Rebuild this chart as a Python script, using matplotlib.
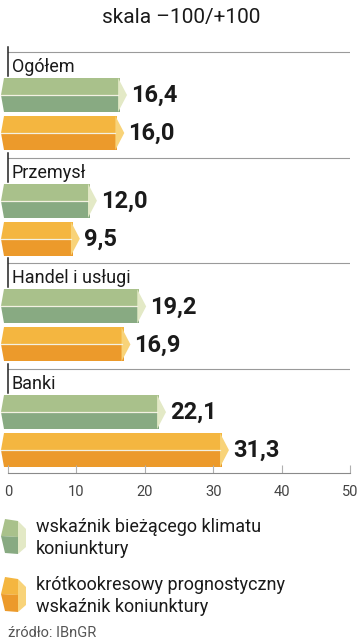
import numpy as np
import matplotlib
matplotlib.use("Agg")
import matplotlib.pyplot as plt
from matplotlib.patches import Polygon

# data
groups = ["Ogółem", "Przemysł", "Handel i usługi", "Banki"]
current = [16.4, 12.0, 19.2, 22.1]
forecast = [16.0, 9.5, 16.9, 31.3]
xticks = [0, 10, 20, 30, 40, 50]
legend_labels = ["wskaźnik bieżącego klimatu\nkoniunktury",
                 "krótkookresowy prognostyczny\nwskaźnik koniunktury"]

green = ("#a9c18b", "#88aa82", "#e3e9c6")
orange = ("#f4b640", "#ec9a2b", "#f8d379")

plt.rcParams['font.family'] = ['Roboto', 'DejaVu Sans']

W, H = 359, 640
fig = plt.figure(figsize=(W / 100, H / 100), dpi=100)
fy = lambda y: 1 - y / H

ax_top, ax_bot = 40, 473
ax = fig.add_axes([8 / W, fy(ax_bot), 342 / W, (ax_bot - ax_top) / H])
ax.set_xlim(0, 50)
ax.set_ylim(ax_bot, ax_top)


def bar(ax, v, y0, h, cols, tip=1.3, notch=0.45):
    ym = y0 + h / 2
    y1 = y0 + h
    kw = dict(closed=True, lw=0, clip_on=False)
    ax.add_patch(Polygon([(-1.05 + notch, y0), (v, y0), (v, ym), (-1.05, ym)], fc=cols[0], **kw))
    ax.add_patch(Polygon([(-1.05, ym), (v, ym), (v, y1), (-1.05 + notch, y1)], fc=cols[1], **kw))
    ax.add_patch(Polygon([(v - 0.3, y0), (v + tip - 0.3, ym), (v - 0.3, y1)], fc=cols[2], **kw))
    ax.plot([-1.0, v - 0.3], [ym, ym], color="#f3f1e2", lw=0.9, clip_on=False)


spacing = 105.7
for i, name in enumerate(groups):
    ly = 52 + i * spacing
    ax.plot([0, 50], [ly, ly], color="#9a9a9a", lw=0.8)
    ax.plot([0, 0], [ly - 5, ly + 24], color="#222222", lw=1.1, clip_on=False)
    ax.text(0.55, ly + 15, name, fontsize=13, va="center", ha="left", color="#1a1a1a")
    for v, off, cols in [(current[i], 26, green), (forecast[i], 64, orange)]:
        bar(ax, v, ly + off, 34, cols)
        ax.text(v + 1.6, ly + off + 17.5, f"{v:.1f}".replace(".", ","),
                fontsize=17, fontweight="bold", va="center", ha="left", color="#1a1a1a")

for s in ["top", "right", "left"]:
    ax.spines[s].set_visible(False)
ax.spines["bottom"].set_color("#8a8a8a")
ax.spines["bottom"].set_linewidth(0.8)
ax.set_yticks([])
ax.set_xticks(xticks)
ax.set_xticklabels([str(t) for t in xticks])
ax.tick_params(axis="x", direction="in", length=6, width=0.8, color="#b0b0b0",
               labelsize=10.5, labelcolor="#444444", pad=9)
ax.xaxis.get_major_ticks()[0].tick1line.set_color("#222222")

fig.text(181 / W, fy(18), "skala –100/+100", fontsize=15, ha="center", va="center", color="#1a1a1a")

# legend
lax = fig.add_axes([0, 0, 1, 1])
lax.set_xlim(0, W)
lax.set_ylim(H, 0)
lax.axis("off")
for k, (lab, cols) in enumerate(zip(legend_labels, [green, orange])):
    y0 = 519 + k * 58
    lax.add_patch(Polygon([(5, y0), (18, y0 + 2), (18, y0 + 18), (1, y0 + 17)], fc=cols[0], lw=0))
    lax.add_patch(Polygon([(1, y0 + 17), (18, y0 + 18), (18, y0 + 35), (5, y0 + 34)], fc=cols[1], lw=0))
    lax.add_patch(Polygon([(18, y0 + 2), (26, y0 + 10), (26, y0 + 28), (18, y0 + 35)], fc=cols[2], lw=0))
    lax.text(36, y0 + 19, lab, fontsize=13, va="center", ha="left", color="#1a1a1a", linespacing=1.3)

fig.text(8 / W, fy(633), "źródło: IBnGR", fontsize=10.5, ha="left", va="center", color="#555555")

fig.savefig("out.png", dpi=100)
